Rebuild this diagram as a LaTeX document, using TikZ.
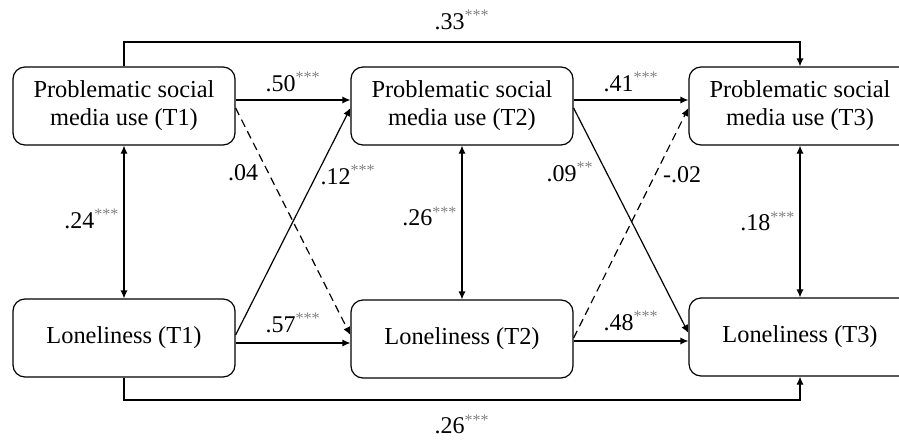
\documentclass[tikz,border=0pt]{standalone}
\usepackage{fontspec}
\setmainfont{Liberation Serif}
\usetikzlibrary{arrows.meta,positioning}
\newcommand{\stars}[1]{\textsuperscript{\color{black!50}#1}}

\begin{document}
\begin{tikzpicture}[x=0.5pt,y=-0.5pt,>={Latex[length=4pt,width=3.6pt]},line width=0.6pt,
  varbox/.style={draw,rounded corners=6pt,minimum width=111pt,minimum height=39pt,align=center,font=\fontsize{12.2}{14}\selectfont,inner sep=2pt},
  coef/.style={font=\fontsize{12}{13}\selectfont,inner sep=1pt},
  nsig/.style={dash pattern=on 4pt off 2.5pt}]
\useasboundingbox (0,0) rectangle (899,439);
\clip (0,0) rectangle (899,439);
% variables
\node[varbox] (p1) at (124,106) {Problematic social\\media use (T1)};
\node[varbox] (p2) at (462,106) {Problematic social\\media use (T2)};
\node[varbox] (p3) at (800,106) {Problematic social\\media use (T3)};
\node[varbox] (l1) at (124,338) {Loneliness (T1)};
\node[varbox] (l2) at (462,339) {Loneliness (T2)};
\node[varbox] (l3) at (800,337) {Loneliness (T3)};
\coordinate (top) at (462,42);
\coordinate (bot) at (462,400);
% autoregressive paths
\draw[->] ([yshift=3pt]p1.east) -- node[coef,above=3pt]{.50\stars{***}} ([yshift=3pt]p2.west);
\draw[->] ([yshift=3pt]p2.east) -- node[coef,above=3pt]{.41\stars{***}} ([yshift=3pt]p3.west);
\draw[->] ([yshift=-2.5pt]l1.east) -- node[coef,above=4pt]{.57\stars{***}} ([yshift=-2pt]l2.west);
\draw[->] ([yshift=-1pt]l2.east) -- node[coef,above=4pt]{.48\stars{***}} ([yshift=-2pt]l3.west);
\draw[->] (p1.north) |- (top) node[coef,above=5pt]{.33\stars{***}} -| (p3.north);
\draw[->] (l1.south) |- (bot) node[coef,below=6pt]{.26\stars{***}} -| (l3.south);
% cross-lagged paths
\draw[->,nsig] ([yshift=-1pt]p1.east) -- ([yshift=2pt]l2.west);
\draw[->] ([yshift=1.5pt]l1.east) -- ([yshift=-1pt]p2.west);
\draw[->] ([yshift=-1pt]p2.east) -- ([yshift=2pt]l3.west);
\draw[->,nsig] ([yshift=0.5pt]l2.east) -- ([yshift=-1pt]p3.west);
\node[coef] (c1) at (243,173) {.04};
\node[coef] (c2) at (348,175) {.12\stars{***}};
\node[coef] (c3) at (570,172) {.09\stars{**}};
\node[coef] (c4) at (682,175) {-.02};
% within-time correlations
\draw[<->] (p1.south) -- node[coef,left=1pt,pos=0.48]{.24\stars{***}} (l1.north);
\draw[<->] (p2.south) -- node[coef,left=1pt,pos=0.46]{.26\stars{***}} (l2.north);
\draw[<->] (p3.south) -- node[coef,left=1pt,pos=0.5]{.18\stars{***}} (l3.north);
\end{tikzpicture}
\end{document}
